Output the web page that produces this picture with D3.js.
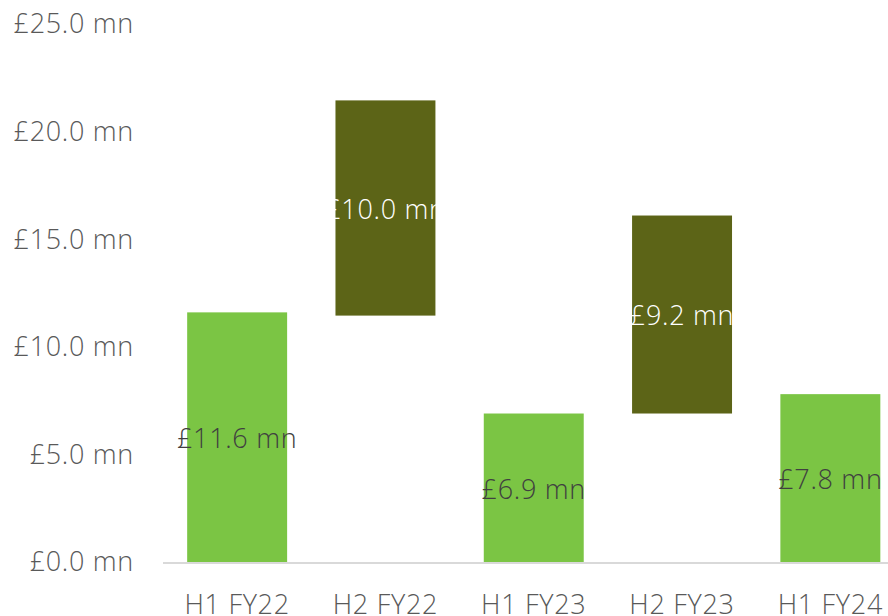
<!DOCTYPE html>
<html><head><meta charset="utf-8">
<script src="https://cdn.jsdelivr.net/npm/d3@7"></script>
<style>
html,body{margin:0;padding:0;background:#fff;overflow:hidden}
svg text{font-family:"Open Sans",sans-serif;font-weight:300;letter-spacing:0.7px}
</style></head>
<body><svg id="c" width="888" height="616"></svg>
<script>
const categories = ["H1 FY22","H2 FY22","H1 FY23","H2 FY23","H1 FY24"];
const baseValues = [0, 11.45, 0, 6.9, 0];
const barValues = [11.6, 10.0, 6.9, 9.2, 7.8];
const barLabels = ["£11.6 mn","£10.0 mn","£6.9 mn","£9.2 mn","£7.8 mn"];
const barKinds = ["half1","half2","half1","half2","half1"];
const yTicks = [0,5,10,15,20,25];

const colors = {half1:"#7BC544", half2:"#5C6417"};
const labelColors = {half1:"#404040", half2:"#FFFFFF"};

const svg = d3.select("#c");
const x = d3.scaleBand().domain(categories).range([163, 904.5]).paddingInner(0.326).paddingOuter(0.163);
const y = d3.scaleLinear().domain([0,25]).range([562, 24]);

// y tick labels
svg.append("g").selectAll("text").data(yTicks).join("text")
  .attr("x",134).attr("y",d=>y(d)).attr("dy","0.35em")
  .attr("text-anchor","end").attr("fill","#595959").attr("font-size",27)
  .text(d=>"£"+d.toFixed(1)+" mn");

const data = categories.map((c,i)=>({c, base:baseValues[i], v:barValues[i], label:barLabels[i], kind:barKinds[i]}));

svg.append("g").selectAll("rect").data(data).join("rect")
  .attr("x",d=>x(d.c)).attr("width",x.bandwidth())
  .attr("y",d=>y(d.base+d.v)).attr("height",d=>y(d.base)-y(d.base+d.v))
  .attr("fill",d=>colors[d.kind]);

// axis line
svg.append("line").attr("x1",163).attr("x2",888).attr("y1",y(0)+1).attr("y2",y(0)+1)
  .attr("stroke","#D9D9D9").attr("stroke-width",2);

// data labels
svg.append("g").selectAll("text").data(data).join("text")
  .attr("x",d=>x(d.c)+x.bandwidth()/2).attr("y",d=>y(d.base+d.v/2)).attr("dy","0.4em")
  .attr("text-anchor","middle").attr("font-size",27)
  .attr("fill",d=>labelColors[d.kind]).text(d=>d.label);

// category labels
svg.append("g").selectAll("text").data(categories).join("text")
  .attr("x",d=>x(d)+x.bandwidth()/2).attr("y",614)
  .attr("text-anchor","middle").attr("fill","#595959").attr("font-size",27)
  .text(d=>d);
</script></body></html>
